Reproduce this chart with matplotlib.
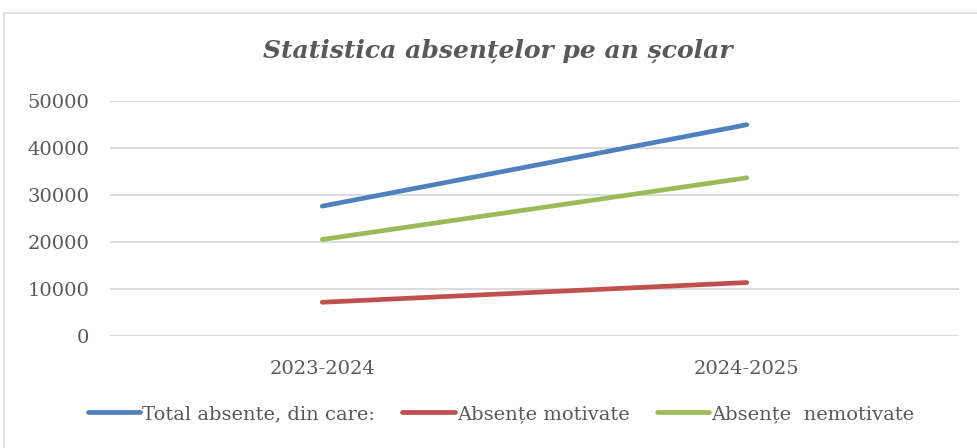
import matplotlib.pyplot as plt
from matplotlib.patches import Rectangle

# date
ani = ['2023-2024', '2024-2025']
total = [27630, 44950]
motivate = [7180, 11380]
nemotivate = [20540, 33660]

gri = '#595959'
plt.rcParams['font.family'] = ['DejaVu Serif']

fig = plt.figure(figsize=(9.78, 4.48), dpi=100)
fig.patches.append(Rectangle((4 / 978, -0.1), 1.2, 1 - 13 / 448 + 0.1,
                             transform=fig.transFigure, fill=False,
                             edgecolor='#d9d9d9', linewidth=1.2))

ax = fig.add_axes([110 / 978, 1 - 336 / 448, (959 - 110) / 978, (336 - 101) / 448])
x = range(len(ani))
ax.plot(x, total, color='#4f81bd', lw=3.4, solid_capstyle='round', label='Total absente, din care:')
ax.plot(x, motivate, color='#c0504d', lw=3.4, solid_capstyle='round', label='Absențe motivate')
ax.plot(x, nemotivate, color='#9bbb59', lw=3.4, solid_capstyle='round', label='Absențe  nemotivate')

ax.set_xlim(-0.5, 1.5)
ax.set_ylim(0, 50000)
ax.set_yticks(range(0, 50001, 10000))
ax.set_xticks(list(x))
ax.set_xticklabels(ani)
ax.yaxis.grid(True, color='#d9d9d9', lw=1.3)
ax.set_axisbelow(True)
for s in ax.spines.values():
    s.set_visible(False)
ax.tick_params(axis='both', length=0, labelsize=14, labelcolor=gri)
ax.tick_params(axis='y', pad=15)
ax.tick_params(axis='x', pad=17)

fig.text(498 / 978, 1 - 51 / 448, 'Statistica absențelor pe an școlar', ha='center', va='center',
         fontsize=18, fontstyle='italic', fontweight='bold', color=gri)

leg = fig.legend(loc='center', bbox_to_anchor=(501 / 978, 1 - 414 / 448), ncol=3, frameon=False,
                 fontsize=14, handlelength=2.7, handletextpad=0.1, columnspacing=1.4)
for t in leg.get_texts():
    t.set_color(gri)

fig.savefig('out.png', dpi=100)
